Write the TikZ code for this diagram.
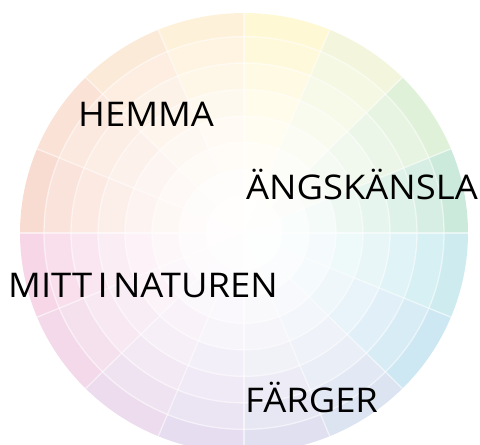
\documentclass[tikz,border=0pt]{standalone}
\usepackage{fontspec}
\setmainfont{Open Sans}
\usetikzlibrary{positioning}
\definecolor{hueA}{HTML}{FFF7CF}
\definecolor{hueB}{HTML}{F1F5D8}
\definecolor{hueC}{HTML}{DDEFD5}
\definecolor{hueD}{HTML}{C6E8D8}
\definecolor{hueE}{HTML}{C8EAEE}
\definecolor{hueF}{HTML}{C9E5F2}
\definecolor{hueG}{HTML}{D8E0F0}
\definecolor{hueH}{HTML}{DEDDEF}
\definecolor{hueI}{HTML}{E3D9EE}
\definecolor{hueJ}{HTML}{EAD8EB}
\definecolor{hueK}{HTML}{F1D5E8}
\definecolor{hueL}{HTML}{F6D3E4}
\definecolor{hueM}{HTML}{F8D8CC}
\definecolor{hueN}{HTML}{FADFD1}
\definecolor{hueO}{HTML}{FCE8D5}
\definecolor{hueP}{HTML}{FEF0D6}
\tikzset{
  wheellbl/.style = {anchor=base west, inner sep=0pt, xscale=1.07,
                     font=\fontsize{34}{40}\selectfont, text=black},
  gridline/.style = {draw=white, line width=1.3pt, opacity=0.55},
}

\begin{document}
\begin{tikzpicture}[x=1pt, y=1pt]
    \useasboundingbox (0,0) rectangle (480,445);
    \clip (0,0) rectangle (480,445);
    % wheel, centre at (244,212)
    \begin{scope}[shift={(244,212)}, yscale=0.982]
      \foreach \r/\p in {224/90, 200/72, 173/56, 146/42, 119/30, 92/19, 65/10, 38/4} {
        \foreach \c [count=\i from 0] in {hueP,hueO,hueN,hueM,hueL,hueK,hueJ,hueI,
                                           hueH,hueG,hueF,hueE,hueD,hueC,hueB,hueA} {
          \fill[\c!\p!white] (0,0) -- ({90+22.5*\i}:\r)
            arc[start angle={90+22.5*\i}, end angle={112.5+22.5*\i}, radius=\r] -- cycle;
        }
      }
      % rings and spokes
      \foreach \r in {200,173,146,119,92,65,38}
        \draw[gridline] (0,0) circle[radius=\r];
      \foreach \a in {0,22.5,...,337.5}
        \draw[gridline] (0,0) -- (\a:224);
    \end{scope}

    % labels
    \node[wheellbl] (hemma)  at (78,318)  {HEMMA};
    \node[wheellbl] (angs)   at (246,245) {ÄNGSKÄNSLA};
    \node[wheellbl] (mitt)   at (8,147)   {MITT\hspace{5pt}I\hspace{5pt}NATUREN};
    \node[wheellbl] (farger) at (245,32)  {FÄRGER};
\end{tikzpicture}
\end{document}
